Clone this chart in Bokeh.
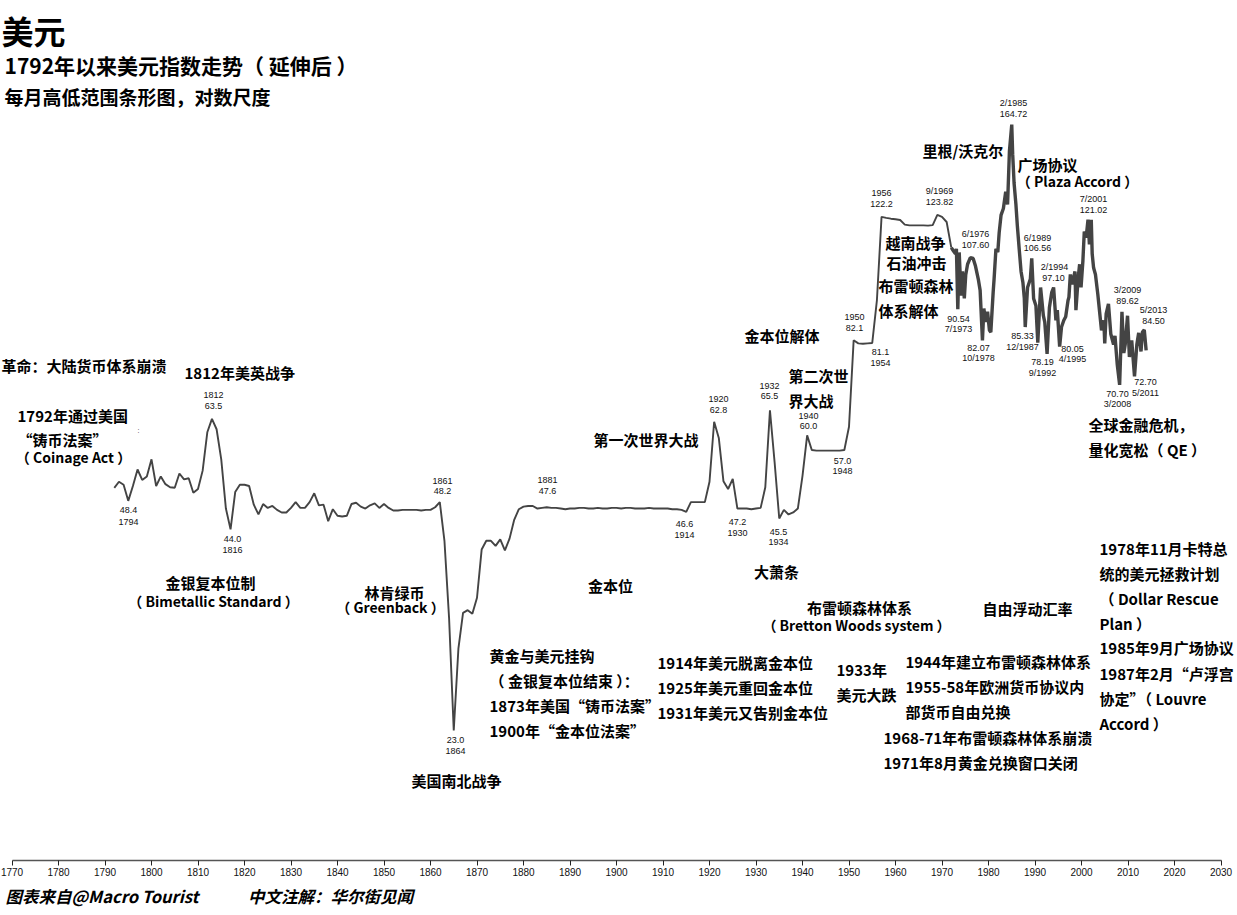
from bokeh.embed import file_html
from bokeh.models import FixedTicker, Label, LinearAxis, Range1d, Title
from bokeh.plotting import figure
from bokeh.resources import INLINE
import math

# Annual index 1792-1972
early_years = list(range(1792, 1973))
early_index = [
    50.6, 51.6, 51.1, 48.5, 50.9, 53.7, 51.9, 52.5,
    55.5, 50.9, 52.5, 51.2, 50.7, 50.6, 53.0, 52.0, 52.2, 49.8,
    50.4, 53.5, 60.6, 63.3, 61.2, 55.5, 47.3, 44.2, 49.9, 51.1,
    51.1, 50.9, 47.9, 46.4, 48.0, 47.4, 47.7, 47.1, 46.7, 46.7,
    47.4, 48.3, 47.4, 47.4, 48.3, 49.7, 47.8, 47.9, 45.4, 47.2,
    46.2, 46.1, 46.2, 48.0, 48.2, 47.6, 47.3, 47.8, 48.1, 47.4,
    48.0, 47.4, 47.0, 47.0, 47.1, 47.1, 47.1, 47.1, 47.0, 47.1,
    47.1, 47.5, 48.3, 42.6, 33.1, 23.0, 30.0, 33.7, 34.0, 33.6,
    35.4, 41.4, 42.6, 42.6, 41.9, 42.8, 41.3, 42.9, 45.6, 47.2,
    47.6, 47.7, 47.7, 47.3, 47.4, 47.5, 47.4, 47.4, 47.3, 47.2,
    47.3, 47.3, 47.4, 47.4, 47.3, 47.3, 47.4, 47.3, 47.3, 47.4,
    47.4, 47.3, 47.4, 47.4, 47.3, 47.3, 47.3, 47.4, 47.3, 47.3,
    47.3, 47.3, 47.2, 47.2, 47.1, 46.8, 48.3, 48.3, 48.3, 48.3,
    51.6, 62.7, 59.5, 51.7, 50.4, 52.1, 47.3, 47.3, 47.3, 47.2,
    47.3, 47.4, 50.7, 65.1, 55.0, 45.8, 47.1, 46.4, 46.7, 47.3,
    52.6, 60.0, 57.2, 57.1, 57.1, 57.1, 57.1, 57.1, 57.1, 57.2,
    61.7, 81.7, 80.9, 80.8, 80.9, 81.0, 93.0, 122.0, 121.6, 121.3,
    121.1, 120.8, 119.0, 118.7, 118.7, 118.7, 118.7, 118.6, 118.8, 122.8,
    122.0, 120.0, 110.4,
]

# High/low swings after 1972
late_years = [
    1972.0, 1972.4, 1972.9, 1973.1, 1973.4, 1973.7, 1974.1, 1974.4, 1974.8, 1975.1,
    1975.5, 1976.1, 1976.7, 1977.2, 1977.8, 1978.2, 1978.7, 1979.0, 1979.4, 1979.8,
    1980.2, 1980.5, 1981.0, 1981.2, 1981.6, 1982.0, 1982.3, 1982.7, 1983.2, 1983.7,
    1984.1, 1984.5, 1985.0, 1985.2, 1985.5, 1985.9, 1986.2, 1986.6, 1987.0, 1987.4,
    1987.7, 1987.9, 1988.4, 1989.0, 1989.3, 1989.7, 1990.2, 1990.6, 1991.2, 1991.8,
    1992.1, 1992.6, 1993.1, 1993.6, 1994.0, 1994.5, 1994.8, 1995.3, 1995.7, 1996.2,
    1996.6, 1997.1, 1997.3, 1997.6, 1998.0, 1998.6, 1998.8, 1999.3, 1999.6, 1999.9,
    2000.3, 2000.6, 2001.0, 2001.4, 2001.7, 2002.1, 2002.3, 2002.6, 2003.0, 2003.5,
    2003.8, 2004.3, 2004.8, 2005.0, 2005.3, 2005.8, 2006.3, 2006.9, 2007.2, 2007.7,
    2008.2, 2008.7, 2009.1, 2009.4, 2009.9, 2010.3, 2010.8, 2011.4, 2011.9, 2012.3,
    2012.8, 2013.1, 2013.5, 2013.9,
]
late_index = [
    110.4, 109.4, 108.2, 110.0, 90.4, 108.7, 94.5, 102.2, 93.6, 101.0,
    104.6, 106.9, 106.6, 104.0, 99.7, 96.1, 81.7, 90.6, 86.7, 89.7,
    84.4, 83.9, 95.5, 99.7, 110.0, 108.8, 116.0, 122.7, 125.4, 132.4,
    127.0, 151.0, 164.7, 149.6, 136.2, 127.0, 118.6, 110.0, 102.2, 98.6,
    93.6, 85.3, 97.0, 99.7, 106.6, 93.6, 91.4, 81.1, 97.0, 88.5,
    86.7, 78.2, 90.9, 95.5, 97.0, 87.2, 90.1, 80.05, 85.3, 87.2,
    88.2, 93.0, 94.0, 101.2, 98.0, 102.2, 90.1, 100.3, 104.6, 97.0,
    105.8, 116.3, 114.1, 120.9, 111.6, 120.9, 108.2, 103.4, 101.2, 95.0,
    90.9, 84.4, 87.2, 80.9, 89.0, 92.0, 83.4, 80.6, 82.9, 75.4,
    70.7, 89.6, 78.4, 80.6, 88.5, 77.4, 81.7, 72.7, 80.6, 83.7,
    78.8, 83.9, 84.5, 79.1,
]

tick_years = list(range(1770, 2031, 10))

titles = ["美元", "1792年以来美元指数走势（ 延伸后 ）", "每月高低范围条形图，对数尺度"]
title_sizes = ["32px", "21px", "19px"]
title_pos = [(1, 29), (4, 64), (4, 96)]

# small value callouts
value_texts = [
    "1812", "63.5", "48.4", "1794", "44.0", "1816", "1861", "48.2", "1881", "47.6",
    "23.0", "1864", "46.6", "1914", "47.2", "1930", "45.5", "1934", "1920", "62.8",
    "1932", "65.5", "1940", "60.0", "57.0", "1948", "1950", "82.1", "81.1", "1954",
    "1956", "122.2", "9/1969", "123.82", "6/1976", "107.60", "90.54", "7/1973",
    "82.07", "10/1978", "2/1985", "164.72", "6/1989", "106.56", "7/2001", "121.02",
    "2/1994", "97.10", "85.33", "12/1987", "78.19", "9/1992", "80.05", "4/1995",
    "3/2009", "89.62", "5/2013", "84.50", "70.70", "3/2008", "72.70", "5/2011",
]
value_pos = [
    (213, 394), (213, 405), (128, 509), (128, 521), (232, 538), (232, 549),
    (442, 480), (442, 490), (547, 479), (547, 490), (455, 739), (455, 750),
    (684, 523), (684, 534), (737, 521), (737, 532), (778, 531), (778, 541),
    (718, 398), (718, 409), (769, 385), (769, 395), (808, 415), (808, 425),
    (842, 460), (842, 470), (854, 316), (854, 327), (880, 351), (880, 362),
    (881, 192), (881, 203), (939, 190), (939, 201), (975, 233), (975, 244),
    (958, 318), (958, 328), (978, 347), (978, 357), (1013, 102), (1013, 113),
    (1037, 237), (1037, 247), (1093, 198), (1093, 209), (1054, 266), (1053, 277),
    (1022, 335), (1022, 346), (1042, 361), (1042, 372), (1072, 348), (1072, 358),
    (1127, 289), (1127, 300), (1153, 309), (1153, 320), (1117, 393), (1117, 403),
    (1145, 381), (1145, 392),
]

# chinese notes, left aligned
note_texts = [
    "革命：大陆货币体系崩溃", "1812年美英战争", "1792年通过美国", "“铸币法案”",
    "黄金与美元挂钩", "（ 金银复本位结束 ）：", "1873年美国“铸币法案”", "1900年“金本位法案”",
    "1914年美元脱离金本位", "1925年美元重回金本位", "1931年美元又告别金本位",
    "1933年", "美元大跌", "自由浮动汇率",
    "1944年建立布雷顿森林体系", "1955-58年欧洲货币协议内", "部货币自由兑换",
    "1968-71年布雷顿森林体系崩溃", "1971年8月黄金兑换窗口关闭",
    "1978年11月卡特总", "统的美元拯救计划", "（ Dollar Rescue", "Plan ）",
    "1985年9月广场协议", "1987年2月“卢浮宫", "协定”（ Louvre", "Accord ）",
    "第一次世界大战", "金本位解体", "第二次世", "界大战",
    "越南战争", "石油冲击", "布雷顿森林", "体系解体",
    "里根/沃克尔", "广场协议", "全球金融危机，", "量化宽松（ QE ）",
]
note_pos = [
    (1, 365), (184, 372), (17, 415), (17, 439),
    (489, 655), (489, 680), (489, 705), (489, 730),
    (657, 662), (657, 687), (657, 712),
    (836, 669), (836, 694), (982, 608),
    (905, 661), (905, 686), (905, 711),
    (883, 737), (883, 762),
    (1099, 548), (1099, 573), (1099, 598), (1099, 623),
    (1099, 647), (1099, 673), (1099, 698), (1099, 723),
    (593, 439), (744, 335), (788, 375), (788, 400),
    (885, 242), (886, 262), (878, 285), (878, 310),
    (922, 150), (1017, 164), (1088, 424), (1088, 449),
]

# chinese notes, centred
centre_texts = ["金银复本位制", "林肯绿币", "金本位", "美国南北战争", "大萧条", "布雷顿森林体系"]
centre_pos = [(210, 582), (394, 592), (610, 585), (456, 780), (776, 571), (859, 607)]

# english names under them, a bit smaller
english_texts = ["（ Coinage Act ）", "（ Bimetallic Standard ）", "（ Greenback ）",
                 "（ Bretton Woods system ）", "（ Plaza Accord ）"]
english_pos = [(73, 456), (213, 600), (390, 606), (856, 624), (1077, 180)]

footer_text = "图表来自@Macro Tourist\u3000\u3000\u3000中文注解：华尔街见闻"

# pixel layout of the picture, used to set the ranges
W, H = 1237, 915
AXIS_PX = 860
PX_PER_YEAR = 4.65
X_1770 = 11.5
PX_PER_LOG = 307.8
Y_TOP_VALUE = 164.72
Y_TOP_PX = 124

x0 = 1770 - X_1770 / PX_PER_YEAR
x1 = x0 + W / PX_PER_YEAR
y_hi = Y_TOP_VALUE * math.exp(Y_TOP_PX / PX_PER_LOG)
y_lo = Y_TOP_VALUE * math.exp(-(AXIS_PX - Y_TOP_PX) / PX_PER_LOG)

p = figure(width=W, height=H, output_backend="svg", toolbar_location=None, tools="",
           y_axis_type="log", x_range=Range1d(x0, x1), y_range=Range1d(y_lo, y_hi),
           x_axis_location=None, y_axis_location=None,
           min_border_left=0, min_border_right=0, min_border_top=0, min_border_bottom=H - AXIS_PX)
p.outline_line_color = None
p.xgrid.visible = False
p.ygrid.visible = False

axis = LinearAxis(ticker=FixedTicker(ticks=tick_years), bounds=(1770, 2030))
axis.axis_line_color = "#555555"
axis.axis_line_width = 1.5
axis.major_tick_line_color = "#222222"
axis.major_tick_in = 0
axis.major_tick_out = 5
axis.minor_tick_line_color = None
axis.major_label_standoff = 2
axis.major_label_text_font = "Liberation Sans"
axis.major_label_text_font_size = "10px"
axis.major_label_text_color = "#111111"
p.add_layout(axis, "below")

footer = Title(text=footer_text, text_font="Noto Sans CJK SC", text_font_size="16.5px",
               text_font_style="bold italic", text_color="#000000", offset=5, standoff=6)
p.add_layout(footer, "below")

p.line(early_years, early_index, line_color="#444444", line_width=1.9)
p.line(late_years, late_index, line_color="#444444", line_width=3.4, line_join="bevel")


def add_text(text, pos, size, font="Noto Sans CJK SC", style="bold", align="left", color="#000000"):
    p.add_layout(Label(x=pos[0], y=AXIS_PX - pos[1], x_units="screen", y_units="screen", text=text,
                       text_font=font, text_font_size=size, text_font_style=style,
                       text_align=align, text_baseline="middle", text_color=color))


for t, xy, s in zip(titles, title_pos, title_sizes):
    add_text(t, xy, s)
for t, xy in zip(value_texts, value_pos):
    add_text(t, xy, "9px", font="Liberation Sans", style="normal", align="center", color="#111111")
for t, xy in zip(note_texts, note_pos):
    add_text(t, xy, "15px")
for t, xy in zip(centre_texts, centre_pos):
    add_text(t, xy, "15px", align="center")
for t, xy in zip(english_texts, english_pos):
    add_text(t, xy, "14px", align="center")
add_text(":", (138, 430), "7px", font="Liberation Sans", style="normal", align="center", color="#402040")

open("out.html", "w").write(file_html(p, INLINE))
